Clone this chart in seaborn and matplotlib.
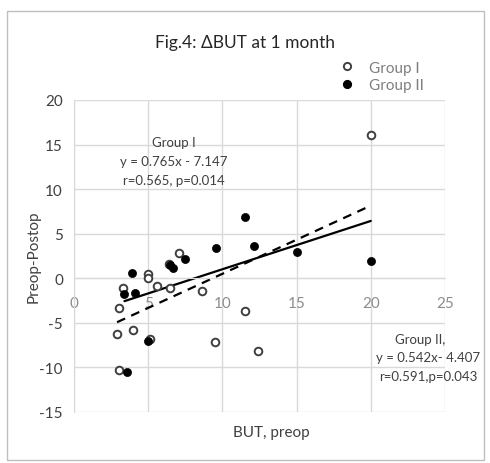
import matplotlib
matplotlib.use("Agg")
import matplotlib.pyplot as plt
import seaborn as sns
import pandas as pd
import numpy as np
from matplotlib.lines import Line2D
from matplotlib.patches import Rectangle

# ---- data ----
g1_x = [20.0, 7.1, 5.0, 5.0, 5.6, 6.5, 3.3, 3.0, 8.6, 11.5, 2.9, 4.0, 5.1, 3.0, 9.5, 12.4, 6.4]
g1_y = [16.1, 2.8, 0.5, 0.0, -0.9, -1.1, -1.1, -3.3, -1.4, -3.7, -6.2, -5.8, -6.8, -10.3, -7.2, -8.2, 1.6]
g2_x = [3.4, 3.9, 4.1, 3.6, 5.0, 6.5, 6.7, 7.5, 9.6, 11.5, 12.1, 15.0, 20.0]
g2_y = [-1.8, 0.6, -1.7, -10.5, -7.0, 1.5, 1.2, 2.2, 3.4, 6.9, 3.6, 3.0, 1.9]
g1_fit = (0.765, -7.147)   # slope, intercept
g2_fit = (0.542, -4.407)
x_ticks = [0, 5, 10, 15, 20, 25]
y_ticks = [-15, -10, -5, 0, 5, 10, 15, 20]
title = "Fig.4: \u0394BUT at 1 month"
series_names = ["Group I", "Group II"]

sns.set_style("white")
FONT = ["Lato", "DejaVu Sans"]
plt.rcParams["font.family"] = FONT
plt.rcParams["axes.unicode_minus"] = False

fig = plt.figure(figsize=(4.9, 4.64), dpi=100)
W, H = 490, 464
ax = fig.add_axes([74 / W, 1 - 413 / H, (445 - 74) / W, (413 - 101) / H])

grid_c = "#d9d9d9"
ax.set_xlim(0, 25)
ax.set_ylim(-15, 20)
ax.set_xticks(x_ticks)
ax.set_yticks(y_ticks)
ax.grid(True, color=grid_c, linewidth=1.0)
ax.set_axisbelow(True)
for s in ["top", "right", "left"]:
    ax.spines[s].set_visible(False)
ax.spines["left"].set_visible(True)
ax.spines["left"].set_color(grid_c)
ax.spines["bottom"].set_position(("data", 0))
ax.spines["bottom"].set_color(grid_c)
ax.tick_params(axis="x", length=0, pad=13, labelsize=11, labelcolor="#8c8c8c")
ax.tick_params(axis="y", length=0, pad=8, labelsize=11, labelcolor="#404040")
for lab in ax.get_xticklabels() + ax.get_yticklabels():
    lab.set_fontfamily(FONT)

df1 = pd.DataFrame({"x": g1_x, "y": g1_y})
df2 = pd.DataFrame({"x": g2_x, "y": g2_y})

# regression lines from the reported equations
l1x = [min(g1_x), max(g1_x)]
l2x = [min(g2_x), max(g2_x)]
line1 = pd.DataFrame({"x": l1x, "y": [g1_fit[0] * v + g1_fit[1] for v in l1x]})
line2 = pd.DataFrame({"x": l2x, "y": [g2_fit[0] * v + g2_fit[1] for v in l2x]})
sns.lineplot(data=line1, x="x", y="y", ax=ax, color="black", linewidth=1.6,
             linestyle=(0, (4, 3)), zorder=2)
sns.lineplot(data=line2, x="x", y="y", ax=ax, color="black", linewidth=1.6, zorder=2)

sns.scatterplot(data=df1, x="x", y="y", ax=ax, marker="o", s=30, facecolor="white",
                edgecolor="#404040", linewidth=1.4, zorder=3)
sns.scatterplot(data=df2, x="x", y="y", ax=ax, marker="o", s=34, color="black",
                edgecolor="black", linewidth=0.5, zorder=4)

ax.set_xlabel("")
ax.set_ylabel("")

# labels
fig.text(271 / W, 1 - 433 / H, "BUT, preop", ha="center", va="center",
         fontsize=11, color="#404040")
fig.text(34 / W, 1 - 257 / H, "Preop-Postop", ha="center", va="center",
         rotation=90, fontsize=11, color="#404040")
fig.text(245 / W, 1 - 43 / H, title, ha="center", va="center",
         fontsize=12.5, color="#262626")

# annotations
ann_c = "#404040"
for txt, yy in [("Group I", 143), ("y = 0.765x - 7.147", 162), ("r=0.565, p=0.014", 181)]:
    fig.text(174 / W, 1 - yy / H, txt, ha="center", va="center", fontsize=9.5, color=ann_c)
for txt, xx, yy in [("Group II,", 420, 340), ("y = 0.542x- 4.407", 428, 358),
                    ("r=0.591,p=0.043", 428, 377)]:
    fig.text(xx / W, 1 - yy / H, txt, ha="center", va="center", fontsize=9.5, color=ann_c)

# legend
handles = [
    Line2D([], [], linestyle="none", marker="o", markersize=5.2, markerfacecolor="white",
           markeredgecolor="#404040", markeredgewidth=1.4),
    Line2D([], [], linestyle="none", marker="o", markersize=5.6, markerfacecolor="black",
           markeredgecolor="black"),
]
fig.legend(handles, series_names, loc="upper left", bbox_to_anchor=(332 / W, 1 - 54 / H),
           frameon=False, fontsize=11, labelcolor="#7f7f7f", handlelength=1.0,
           handletextpad=0.9, labelspacing=0.25, borderpad=0)

# chart border
fig.patches.append(Rectangle((7 / W, 1 - 461 / H), (484 - 7) / W, (461 - 12) / H,
                             transform=fig.transFigure, fill=False,
                             edgecolor="#bfbfbf", linewidth=1.0))

fig.savefig("out.png", dpi=100)
